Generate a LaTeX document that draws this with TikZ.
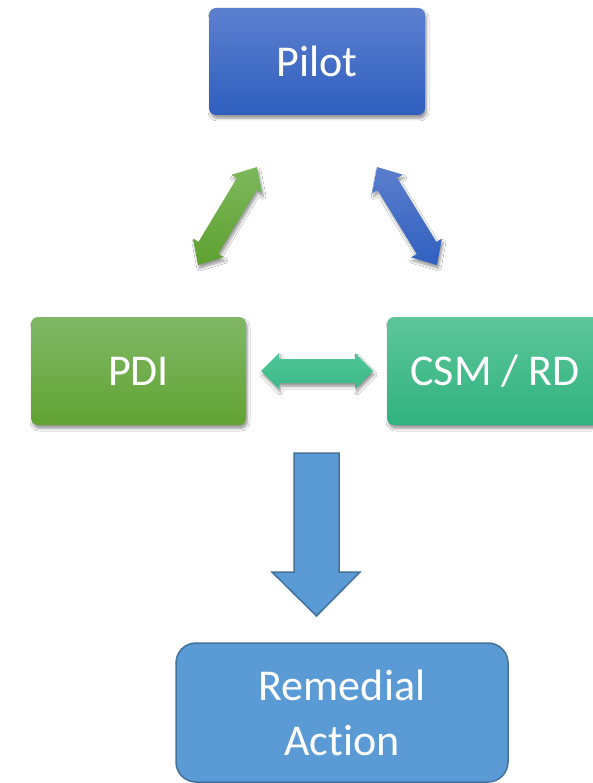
\documentclass[tikz,border=0pt]{standalone}
\usepackage{fontspec}
\setmainfont{Carlito}[Ligatures=NoCommon]
\usetikzlibrary{calc,shadows.blur}
\definecolor{pilotTop}{HTML}{5B80CF}
\definecolor{pilotBot}{HTML}{2F5EBE}
\definecolor{pdiTop}{HTML}{80B866}
\definecolor{pdiBot}{HTML}{62A333}
\definecolor{csmTop}{HTML}{5DC69A}
\definecolor{csmBot}{HTML}{30B27F}
\definecolor{garTop}{HTML}{7DB85C}
\definecolor{garBot}{HTML}{5EA030}
\definecolor{barTop}{HTML}{5A7ECD}
\definecolor{barBot}{HTML}{3060C0}
\definecolor{tarTop}{HTML}{52C698}
\definecolor{tarBot}{HTML}{3AB888}
\definecolor{remFill}{HTML}{5B9BD5}
\definecolor{remLine}{HTML}{41719C}
\newcommand\blockdbl[6]{%
  \path[#1] ($(#2)!#4!(#3)!#5!90:(#3)$) -- (#2) -- ($(#2)!#4!(#3)!#5!-90:(#3)$)
    -- ($(#2)!#4!(#3)!#6!-90:(#3)$) -- ($(#3)!#4!(#2)!#6!90:(#2)$)
    -- ($(#3)!#4!(#2)!#5!90:(#2)$) -- (#3) -- ($(#3)!#4!(#2)!#5!-90:(#2)$)
    -- ($(#3)!#4!(#2)!#6!-90:(#2)$) -- ($(#2)!#4!(#3)!#6!90:(#3)$) -- cycle;}
\tikzset{
  softshadow/.style={blur shadow={shadow xshift=1.5pt,shadow yshift=-3.5pt,shadow blur steps=6,shadow blur radius=2.5pt,shadow opacity=40}},
  box/.style={rectangle,rounded corners=7pt,text=white,font=\fontsize{44}{54}\selectfont,align=center,inner sep=0pt,softshadow},
}
\begin{document}
\begin{tikzpicture}[x=1pt,y=-1pt]
\useasboundingbox (0,0) rectangle (592,783);
\fill[white] (0,0) rectangle (592,783);
% boxes
\node[box,top color=pilotTop,bottom color=pilotBot,minimum width=216pt,minimum height=107pt] (pilot) at (317,61.5) {Pilot};
\node[box,top color=pdiTop,bottom color=pdiBot,minimum width=215pt,minimum height=108pt] (pdi) at (138.5,371) {PDI};
\node[box,top color=csmTop,bottom color=csmBot,minimum width=216pt,minimum height=108pt] (csm) at (495,371) {CSM / RD};
\node[rectangle,rounded corners=20pt,fill=remFill,draw=remLine,line width=1.5pt,text=white,font=\fontsize{44}{55}\selectfont,align=center,minimum width=332pt,minimum height=139pt,inner sep=0pt] (rem) at (342,712.5) {Remedial\\Action};
% double arrows
\coordinate (g1) at (198,265); \coordinate (g2) at (257,167);
\coordinate (b1) at (377,167); \coordinate (b2) at (437,265);
\coordinate (t1) at (261,371); \coordinate (t2) at (373,371);
\blockdbl{softshadow,top color=garTop,bottom color=garBot}{g1}{g2}{20pt}{18pt}{11.5pt}
\blockdbl{softshadow,top color=barTop,bottom color=barBot}{b1}{b2}{20pt}{18pt}{11.5pt}
\blockdbl{softshadow,top color=tarTop,bottom color=tarBot}{t1}{t2}{18pt}{18pt}{12pt}
% down arrow
\coordinate (d1) at (316.5,453); \coordinate (d2) at (316.5,616);
\draw[fill=remFill,draw=remLine,line width=1.5pt,line join=miter]
  ($(d1)+(-22.5,0)$) -- ($(d1)+(22.5,0)$) -- ($(d2)+(22.5,-44)$) -- ($(d2)+(43.5,-44)$)
  -- (d2) -- ($(d2)+(-44.5,-44)$) -- ($(d2)+(-22.5,-44)$) -- cycle;
\end{tikzpicture}
\end{document}
